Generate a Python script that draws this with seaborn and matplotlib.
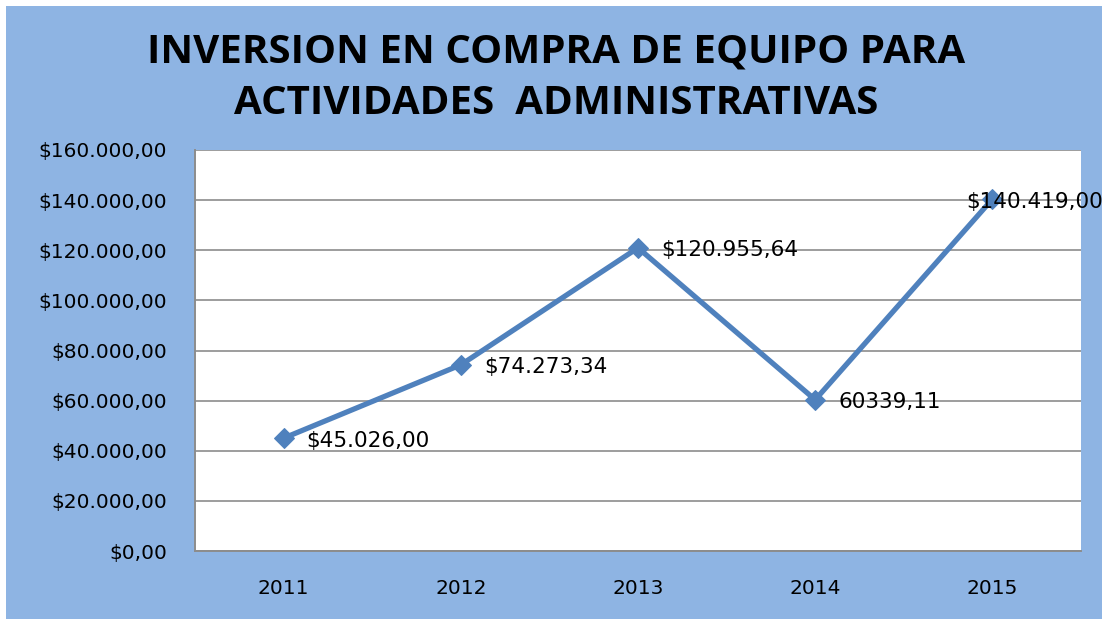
import matplotlib
matplotlib.use("Agg")
import matplotlib.pyplot as plt
import seaborn as sns
import pandas as pd
from matplotlib.patches import Rectangle
from matplotlib.ticker import FuncFormatter, MultipleLocator, FixedLocator

# data
years = ["2011", "2012", "2013", "2014", "2015"]
values = [45026.00, 74273.34, 120955.64, 60339.11, 140419.00]
labels = ["$45.026,00", "$74.273,34", "$120.955,64", "60339,11", "$140.419,00"]

df = pd.DataFrame({"pos": range(len(years)), "valor": values})

sns.set_theme(style="white")
plt.rcParams["font.family"] = ["Open Sans", "DejaVu Sans"]

bg = "#8EB4E3"
line_c = "#4F81BD"
grid_c = "#8C8C8C"
lab_font = "DejaVu Sans"

fig = plt.figure(figsize=(11.02, 6.19), dpi=100)
fig.patch.set_facecolor("white")
# blue chart area with thin white frame at top/left
fig.patches.append(Rectangle((6 / 1102, 0), 1 - 6 / 1102, 1 - 6 / 619,
                             transform=fig.transFigure, facecolor=bg,
                             edgecolor="none", zorder=-5))

ax = fig.add_axes([195 / 1102, 1 - 551 / 619, (1081 - 195) / 1102, (551 - 150) / 619])
ax.set_zorder(2)
ax.set_facecolor("white")

sns.lineplot(data=df, x="pos", y="valor", ax=ax, color=line_c, linewidth=3.8,
             marker="D", markersize=10.5, markeredgecolor=line_c, zorder=3)

ax.set_xlim(-0.5, len(years) - 0.5)
ax.set_ylim(0, 160000)
ax.yaxis.set_major_locator(MultipleLocator(20000))
ax.yaxis.set_major_formatter(FuncFormatter(
    lambda v, p: "$" + f"{v:,.2f}".replace(",", "X").replace(".", ",").replace("X", ".")))
ax.grid(axis="y", color=grid_c, linewidth=1.2)
ax.set_axisbelow(True)

# tick marks at category boundaries, labels at centres
ax.xaxis.set_major_locator(FixedLocator([i - 0.5 for i in range(len(years) + 1)]))
ax.xaxis.set_major_formatter(FuncFormatter(lambda v, p: ""))
ax.xaxis.set_minor_locator(FixedLocator(list(range(len(years)))))
ax.set_xticklabels(years, minor=True)
ax.tick_params(axis="x", which="major", direction="out", length=6, color=grid_c, width=1.2)
ax.tick_params(axis="x", which="minor", length=0, pad=20, labelsize=14.5,
               labelcolor="black")
ax.tick_params(axis="y", direction="out", length=6, color=grid_c, width=1.2, pad=14,
               labelsize=14.5, labelcolor="black")
for t in ax.get_yticklabels() + ax.get_xticklabels(minor=True):
    t.set_family(lab_font)
ax.set_xlabel("")
ax.set_ylabel("")

for s in ["top", "right"]:
    ax.spines[s].set_visible(False)
for s in ["left", "bottom"]:
    ax.spines[s].set_color(grid_c)
    ax.spines[s].set_linewidth(1.4)

for i, (v, t) in enumerate(zip(values, labels)):
    dx = 0.13 if i < len(years) - 1 else -0.15
    ax.text(i + dx, v - 1000, t, fontsize=15.5, va="center", ha="left",
            family=lab_font, color="black", clip_on=False, zorder=4)

fig.text(0.505, 1 - 52 / 619, "INVERSION EN COMPRA DE EQUIPO PARA", ha="center",
         va="center", fontsize=29, fontweight="bold", color="black")
fig.text(0.505, 1 - 103 / 619, "ACTIVIDADES  ADMINISTRATIVAS", ha="center",
         va="center", fontsize=29, fontweight="bold", color="black")

fig.savefig("out.png", dpi=100, facecolor=fig.get_facecolor())
